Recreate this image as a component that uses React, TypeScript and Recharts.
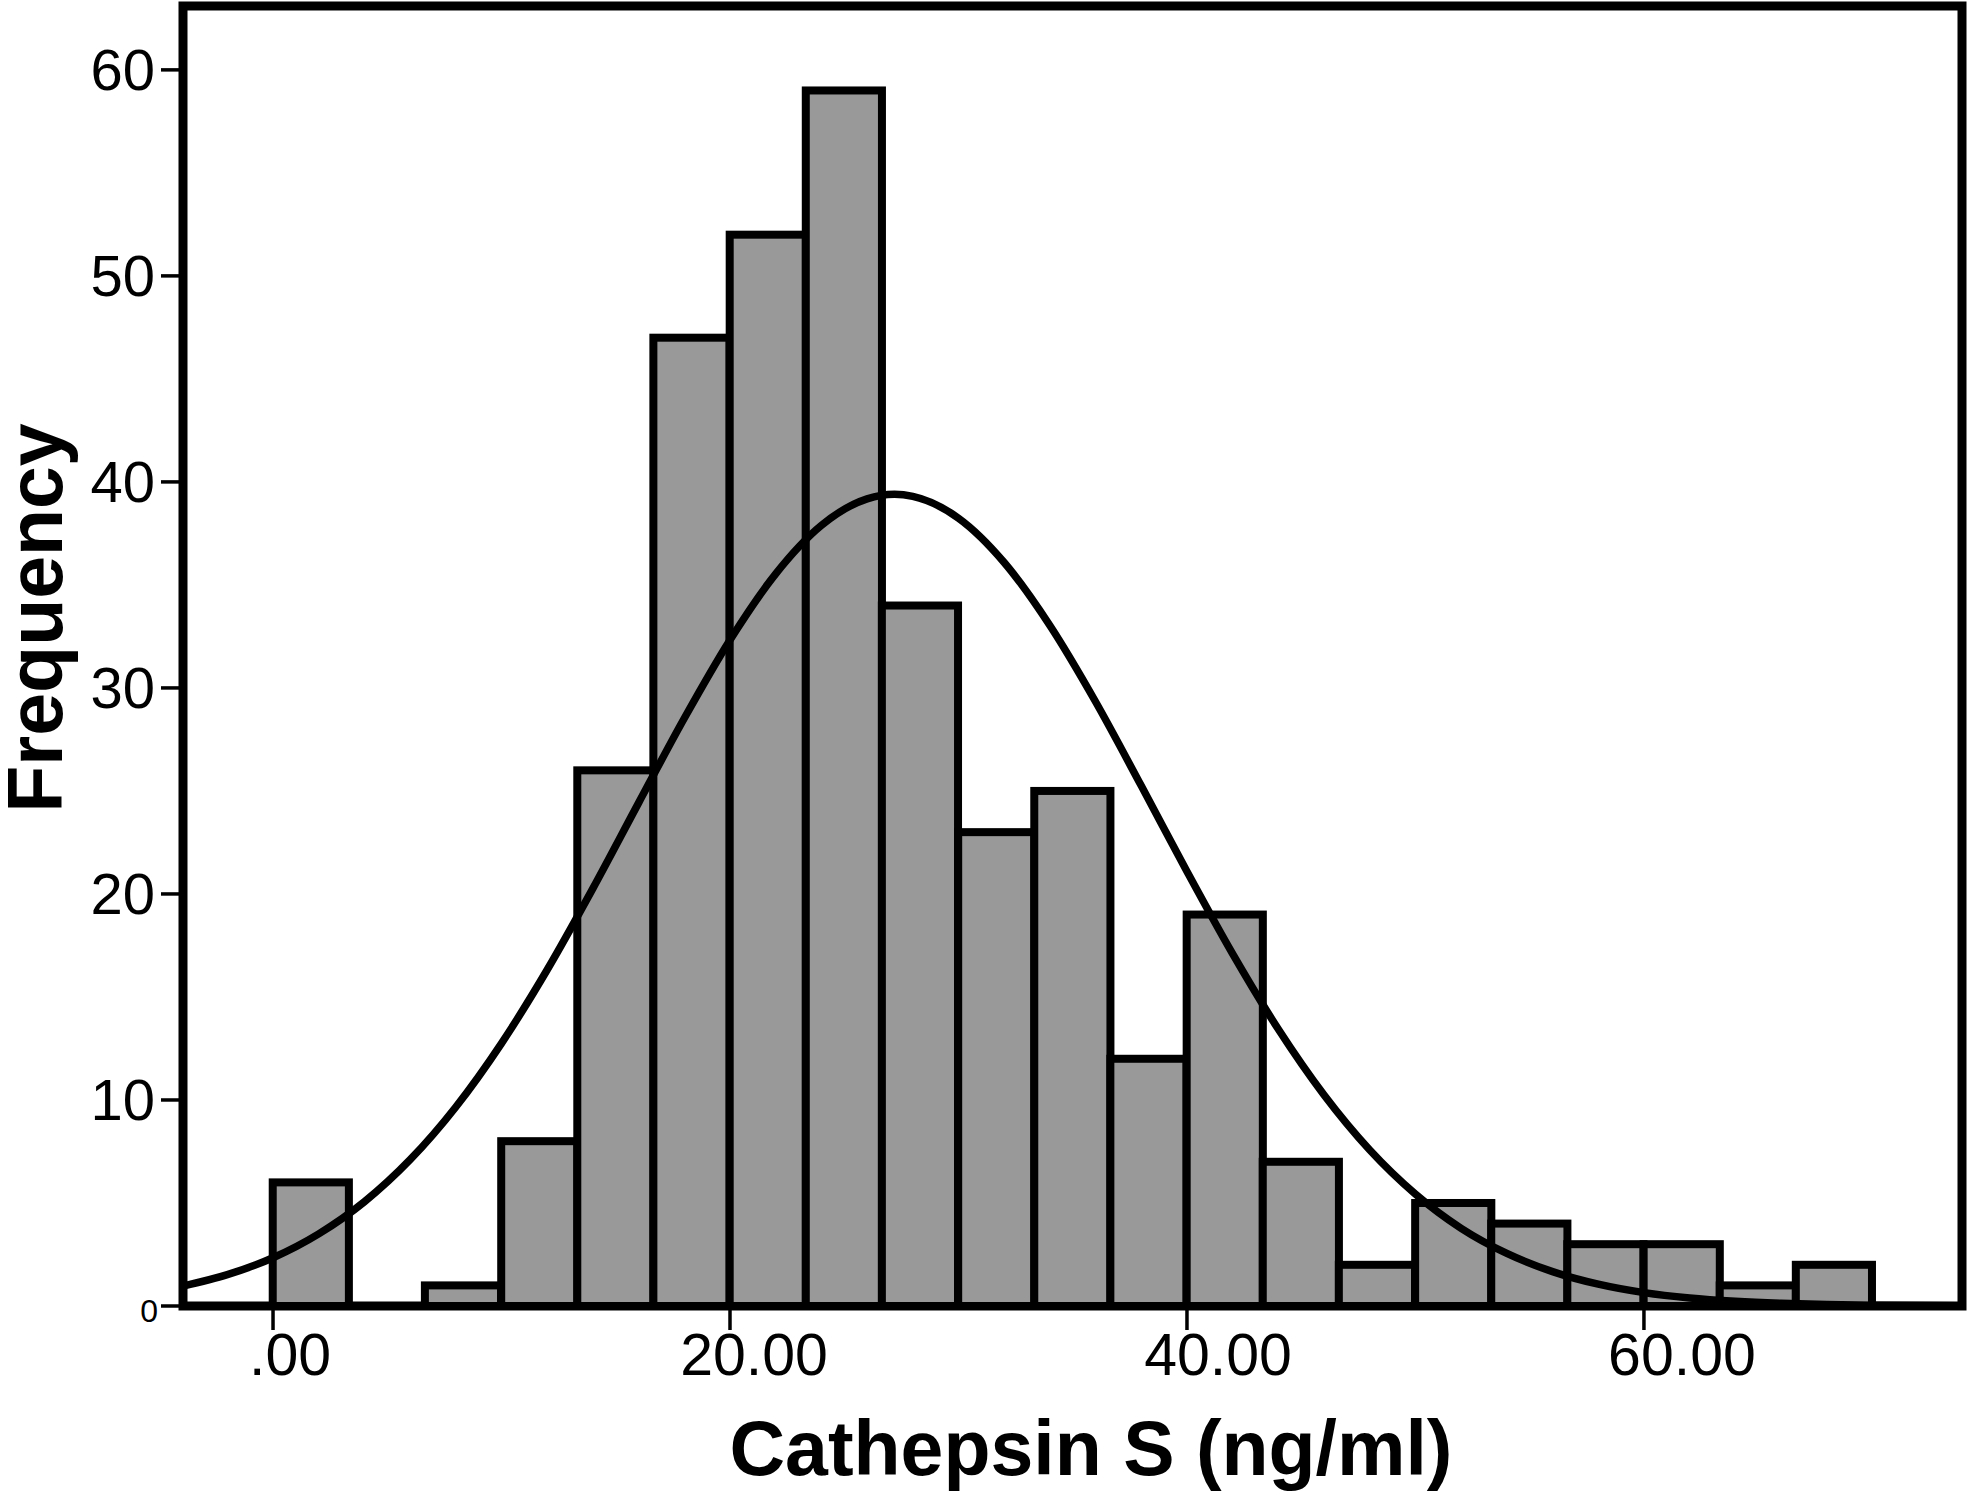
import React from 'react';
import { ComposedChart, Bar, Line, XAxis, YAxis, ReferenceArea } from 'recharts';

// histogram bins (width 3.33, first bin starts at 0)
const BIN_WIDTH = 10 / 3;
const BIN_MID = [
  1.67, 5, 8.33, 11.67, 15, 18.33, 21.67, 25, 28.33, 31.67, 35,
  38.33, 41.67, 45, 48.33, 51.67, 55, 58.33, 61.67, 65, 68.33,
];
const BIN_COUNT = [6, 0, 1, 8, 26, 47, 52, 59, 34, 23, 25, 12, 19, 7, 2, 5, 4, 3, 3, 1, 2];

// normal curve
const CURVE_X = [
  -3.94, -2, 0, 2, 4, 6, 8, 10, 12, 14, 16, 18, 20, 22, 24, 26, 27.2, 28, 30, 32, 34, 36,
  38, 40, 42, 44, 46, 48, 50, 52, 54, 56, 58, 60, 62, 64, 66, 68, 70, 72, 73.92,
];
const CURVE_Y = [
  0.97, 1.52, 2.34, 3.5, 5.06, 7.1, 9.66, 12.75, 16.32, 20.27, 24.42, 28.53, 32.33, 35.54,
  37.89, 39.18, 39.4, 39.3, 38.24, 36.09, 33.03, 29.33, 25.25, 21.09, 17.09, 13.43, 10.24,
  7.57, 5.43, 3.77, 2.55, 1.67, 1.06, 0.65, 0.39, 0.23, 0.13, 0.07, 0.04, 0.02, 0.01,
];

const X_TICKS = [0, 20, 40, 60];
const X_TICK_LABELS = ['.00', '20.00', '40.00', '60.00'];
const Y_TICKS = [0, 10, 20, 30, 40, 50, 60];

const X_MIN = -3.94;
const X_MAX = 73.92;
const Y_MAX = 63.1;

const W = 1969;
const H = 1493;
const PLOT_LEFT = 183;
const PLOT_RIGHT = 1962;
const PLOT_TOP = 6;
const PLOT_BOTTOM = 1306;

const FONT = '"Liberation Sans", Arial, Helvetica, sans-serif';

const bins = BIN_MID.map((x, i) => ({ x, count: BIN_COUNT[i] }));
const curve = CURVE_X.map((x, i) => ({ x, y: CURVE_Y[i] }));

const pxPerUnit = (PLOT_RIGHT - PLOT_LEFT) / (X_MAX - X_MIN);
const BAR_PX = BIN_WIDTH * pxPerUnit;

const HistBar = (props: any) => {
  const { x, y, width, height } = props;
  if (!height || height <= 0) return null;
  const cx = x + width / 2;
  return (
    <rect x={cx - BAR_PX / 2} y={y} width={BAR_PX} height={height} fill="#999999" stroke="#000" strokeWidth={8} />
  );
};

const XTick = ({ x, y, payload }: any) => {
  const i = X_TICKS.indexOf(payload.value);
  // labels sit a little right of their ticks in the original
  const dx = 17 + payload.value * 0.35;
  return (
    <text x={x + dx} y={y + 43} textAnchor="middle" fontSize={59} fontFamily={FONT} fill="#000">
      {X_TICK_LABELS[i]}
    </text>
  );
};

const YTick = ({ x, y, payload }: any) => {
  const small = payload.value === 0;
  return (
    <text
      x={small ? x + 3 : x}
      y={small ? y + 5 : y}
      dy="0.35em"
      textAnchor="end"
      fontSize={small ? 32 : 58}
      fontFamily={FONT}
      fill="#000"
    >
      {payload.value}
    </text>
  );
};

export default function App() {
  return (
    <div style={{ position: 'absolute', left: 0, top: 0, width: W, height: H, background: '#fff' }}>
      <ComposedChart
        width={W}
        height={H}
        data={bins}
        margin={{ top: PLOT_TOP, right: W - PLOT_RIGHT, left: 0, bottom: 0 }}
      >
        <XAxis
          dataKey="x"
          type="number"
          domain={[X_MIN, X_MAX]}
          ticks={X_TICKS}
          height={H - PLOT_BOTTOM}
          axisLine={false}
          tickLine={{ stroke: '#000', strokeWidth: 3.5 }}
          tickSize={24}
          tickMargin={2}
          tick={<XTick />}
          allowDataOverflow
          label={() => (
            <text x={1091} y={1475} textAnchor="middle" fontSize={77} fontWeight="bold" fontFamily={FONT} fill="#000">
              Cathepsin S (ng/ml)
            </text>
          )}
        />
        <YAxis
          type="number"
          domain={[0, Y_MAX]}
          ticks={Y_TICKS}
          width={PLOT_LEFT}
          axisLine={false}
          tickLine={{ stroke: '#000', strokeWidth: 3.5 }}
          tickSize={22}
          tickMargin={6}
          tick={<YTick />}
          allowDataOverflow
          label={() => (
            <text
              x={62}
              y={618}
              transform="rotate(-90 62 618)"
              textAnchor="middle"
              fontSize={77}
              fontWeight="bold"
              fontFamily={FONT}
              fill="#000"
            >
              Frequency
            </text>
          )}
        />
        <Bar dataKey="count" barSize={BAR_PX} shape={<HistBar />} isAnimationActive={false} />
        <Line
          data={curve}
          dataKey="y"
          type="monotone"
          stroke="#000"
          strokeWidth={7.5}
          dot={false}
          activeDot={false}
          isAnimationActive={false}
        />
        <ReferenceArea
          x1={X_MIN}
          x2={X_MAX}
          y1={0}
          y2={Y_MAX}
          fill="none"
          stroke="#000"
          strokeWidth={9}
          ifOverflow="visible"
        />
      </ComposedChart>
    </div>
  );
}
